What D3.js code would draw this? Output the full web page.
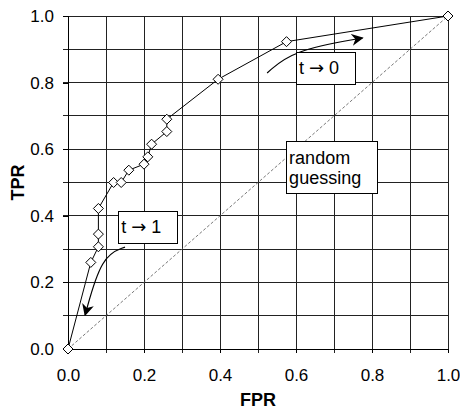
<!DOCTYPE html>
<html>
<head>
<meta charset="utf-8">
<script src="https://cdn.jsdelivr.net/npm/d3@7"></script>
<style>
  body { margin: 0; background: #fff; }
  text { font-family: "Liberation Sans", Arial, sans-serif; fill: #000; }
  .axisLabel { font-weight: bold; font-size: 18px; }
  .note { font-size: 18px; }
  .arrowGlyph { font-family: "DejaVu Sans", sans-serif; font-size: 18px; }
</style>
</head>
<body>
<div id="canvas"></div>
<script>
// DATA
const fpr = [0, 0.06, 0.08, 0.08, 0.08, 0.12, 0.14, 0.16, 0.20, 0.21, 0.22, 0.26, 0.26, 0.395, 0.575, 1.0];
const tpr = [0, 0.26, 0.307, 0.345, 0.422, 0.50, 0.50, 0.537, 0.555, 0.577, 0.615, 0.653, 0.69, 0.81, 0.923, 1.0];
const xTicks = [0, 0.2, 0.4, 0.6, 0.8, 1.0];
const yTicks = [0, 0.2, 0.4, 0.6, 0.8, 1.0];
const gridSteps = [0.1, 0.2, 0.3, 0.4, 0.5, 0.6, 0.7, 0.8, 0.9, 1.0];

// annotation arrows (data space)
const arrowT0 = [[0.524, 0.829], [0.592, 0.897], [0.775, 0.934]];
const arrowT1 = [[0.15, 0.306], [0.088, 0.28], [0.045, 0.102]];

// DIMENSIONS
const width = 460;
const height = 409;
const margin = { top: 16, right: 12, bottom: 60, left: 68 };
const plot_width = width - margin.left - margin.right;
const plot_height = height - margin.top - margin.bottom;

const canvas = d3.select("#canvas")
  .append("svg")
  .attr("width", width)
  .attr("height", height);

const plot = canvas.append("g")
  .attr("transform", `translate(${margin.left},${margin.top})`);

// SCALES
const scaleX = d3.scaleLinear().domain([0, 1]).range([0, plot_width]);
const scaleY = d3.scaleLinear().domain([0, 1]).range([plot_height, 0]);

// GRID
plot.append("g").selectAll("line").data(gridSteps).join("line")
  .attr("x1", d => scaleX(d)).attr("x2", d => scaleX(d))
  .attr("y1", 0).attr("y2", plot_height + 4)
  .attr("stroke", "#222").attr("shape-rendering", "crispEdges");

plot.append("g").selectAll("line").data(gridSteps).join("line")
  .attr("x1", -5).attr("x2", plot_width)
  .attr("y1", d => scaleY(d)).attr("y2", d => scaleY(d))
  .attr("stroke", "#222").attr("shape-rendering", "crispEdges");

// AXES
const xaxis = plot.append("g")
  .attr("transform", `translate(0,${plot_height})`)
  .call(d3.axisBottom(scaleX).tickValues(xTicks).tickFormat(d3.format(".1f")).tickSize(4).tickPadding(16));
const yaxis = plot.append("g")
  .call(d3.axisLeft(scaleY).tickValues(yTicks).tickFormat(d3.format(".1f")).tickSize(5).tickPadding(9));

[xaxis, yaxis].forEach(a => {
  a.select(".domain").attr("stroke", "#000").attr("shape-rendering", "crispEdges");
  a.selectAll(".tick line").attr("stroke", "#000").attr("shape-rendering", "crispEdges");
  a.selectAll("text").style("font-size", "17px").style("font-family", "'Liberation Sans', Arial, sans-serif");
});

// RANDOM GUESSING DIAGONAL
plot.append("line")
  .attr("x1", scaleX(0)).attr("y1", scaleY(0))
  .attr("x2", scaleX(1)).attr("y2", scaleY(1))
  .attr("stroke", "#555").attr("stroke-width", 0.8)
  .attr("stroke-dasharray", "3,2");

// ROC CURVE
const pts = fpr.map((f, i) => [f, tpr[i]]);
plot.append("path")
  .datum(pts)
  .attr("fill", "none")
  .attr("stroke", "#000")
  .attr("stroke-width", 1)
  .attr("d", d3.line().x(d => scaleX(d[0])).y(d => scaleY(d[1])));

plot.append("g").selectAll("path").data(pts).join("path")
  .attr("transform", d => `translate(${scaleX(d[0])},${scaleY(d[1])})`)
  .attr("d", "M0,-5L5,0L0,5L-5,0Z")
  .attr("fill", "#fff").attr("stroke", "#000").attr("stroke-width", 1);

// ARROWS
canvas.append("defs").append("marker")
  .attr("id", "head")
  .attr("viewBox", "0 0 10 10")
  .attr("refX", 9).attr("refY", 5)
  .attr("markerWidth", 12).attr("markerHeight", 12)
  .attr("markerUnits", "userSpaceOnUse")
  .attr("orient", "auto")
  .append("path").attr("d", "M0,0L10,5L0,10L3,5Z").attr("fill", "#000");

const curve = d3.line().x(d => scaleX(d[0])).y(d => scaleY(d[1])).curve(d3.curveBasis);
[arrowT0, arrowT1].forEach(a => {
  plot.append("path")
    .attr("d", curve(a))
    .attr("fill", "none").attr("stroke", "#000").attr("stroke-width", 1.2)
    .attr("marker-end", "url(#head)");
});

// NOTE BOXES
function noteBox(x0, y0, w, h, lines) {
  const g = plot.append("g").attr("transform", `translate(${scaleX(x0)},${scaleY(y0)})`);
  g.append("rect").attr("width", w).attr("height", h)
    .attr("fill", "#fff").attr("stroke", "#000").attr("shape-rendering", "crispEdges");
  lines.forEach((t, i) => {
    const txt = g.append("text").attr("class", "note").attr("x", 3).attr("y", 22 + i * 20);
    if (Array.isArray(t)) {
      txt.append("tspan").text(t[0] + " ");
      txt.append("tspan").attr("class", "arrowGlyph").text("\u2192");
      txt.append("tspan").text(" " + t[1]);
    } else {
      txt.text(t);
    }
  });
}
noteBox(0.6, 0.891, 59, 32, [["t", "0"]]);
noteBox(0.132, 0.414, 59, 32, [["t", "1"]]);
noteBox(0.574, 0.622, 91, 52, ["random", "guessing"]);

// LABELS
plot.append("text").attr("class", "axisLabel")
  .attr("text-anchor", "middle")
  .attr("x", plot_width / 2).attr("y", plot_height + 57)
  .text("FPR");
plot.append("text").attr("class", "axisLabel")
  .attr("text-anchor", "middle")
  .attr("transform", `translate(${-margin.left + 24},${plot_height / 2}) rotate(-90)`)
  .text("TPR");
</script>
</body>
</html>
